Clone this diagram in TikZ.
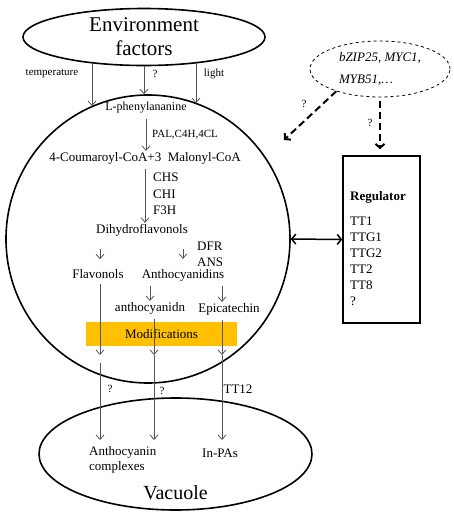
\documentclass[tikz,border=0pt]{standalone}
\usepackage{fontspec}
\setmainfont{Liberation Serif}
\usetikzlibrary{arrows.meta,shapes.geometric}
\definecolor{modorange}{HTML}{FFC000}
\definecolor{flowgray}{HTML}{555555}
\newcommand{\txtsize}[2]{\fontsize{#1}{#2}\selectfont}

\begin{document}
\begin{tikzpicture}[x=1pt,y=-1pt,
		flow/.style={draw=flowgray,line width=.8pt,-{Straight Barb[length=4.5pt,width=8pt]}},
		inflow/.style={flow,shorten <=4pt},
		txt/.style={font=\txtsize{13}{15},inner sep=1pt},
		lbl/.style={font=\txtsize{11}{13},inner sep=1pt},
		border/.style={draw,line width=1.6pt},
		tfarrow/.style={line width=2pt,dash pattern=on 7pt off 4pt,-{Straight Barb[length=4pt,width=9pt]}},
		linkarrow/.style={line width=1.5pt,{Straight Barb[length=4pt,width=10pt]}-{Straight Barb[length=4pt,width=10pt]}}]

		\useasboundingbox (0,0) rectangle (454,515);

		% compartments
		\node[border,ellipse,minimum width=242pt,minimum height=57pt,inner sep=0,align=center,font=\txtsize{21}{24}] (env) at (144,37) {Environment\\factors};
		\node[border,ellipse,minimum width=284pt,minimum height=288pt] (cell) at (148,239) {};
		\node[border,ellipse,minimum width=273pt,minimum height=112pt] (vac) at (175.5,454) {};
		\node[draw,dashed,ellipse,line width=.8pt,minimum width=140pt,minimum height=56pt,inner sep=0,align=left,font=\itshape\txtsize{13}{22}] (tf) at (380,69) {bZIP25, MYC1,\\MYB51,\dots};
		\node[border,minimum width=77pt,minimum height=167pt] (reg) at (381.5,239.5) {};
		\node[fill=modorange,minimum width=151pt,minimum height=24pt,inner sep=0,font=\txtsize{13}{15}] (mod) at (161.5,334) {Modifications};

		% regulator list
		\node[font=\bfseries\txtsize{13}{15}] (regtitle) at (378,197) {Regulator};
		\node[txt,anchor=west,align=left,font=\txtsize{13}{16}] (reglist) at (349,261) {TT1\\TTG1\\TTG2\\TT2\\TT8\\?};

		% environment inputs
		\node[lbl] (temp) at (52,74) {temperature};
		\node[lbl] (envq) at (155,74) {?};
		\node[lbl] (light) at (214,74) {light};

		% pathway
		\node[txt,font=\txtsize{12}{14}] (phe) at (146,108) {L-phenylananine};
		\node[lbl,anchor=west] (pal) at (151,135) {PAL,C4H,4CL};
		\node[txt] (cou) at (145,158) {4-Coumaroyl-CoA+3\ \ Malonyl-CoA};
		\node[txt,anchor=west,align=left,font=\txtsize{13}{16.5}] (chs) at (152,194) {CHS\\CHI\\F3H};
		\node[txt] (dih) at (142,230) {Dihydroflavonols};
		\node[txt,anchor=west,align=left,font=\txtsize{13}{15.5}] (dfr) at (196,254.5) {DFR\\ANS};
		\node[txt] (flav) at (98,274) {Flavonols};
		\node[txt] (antd) at (183,275) {Anthocyanidins};
		\node[txt] (antn) at (150,308) {anthocyanidn};
		\node[txt] (epi) at (229,309) {Epicatechin};

		% transport
		\node[lbl] (q4) at (110,389) {?};
		\node[lbl] (q5) at (162,391) {?};
		\node[txt] (tt12) at (238,389) {TT12};
		\node[txt,anchor=west,align=left] (cplx) at (88,460) {Anthocyanin\\complexes};
		\node[txt] (inpa) at (220,453) {In-PAs};
		\node[font=\txtsize{20}{24}] (vacl) at (175.5,493) {Vacuole};

		% regulation
		\node[lbl] (q2) at (304,104) {?};
		\node[lbl] (q3) at (370,123) {?};

		\coordinate (c1) at (100,0);
		\coordinate (c2) at (154,0);
		\coordinate (c3) at (222,0);
		\coordinate (r1) at (0,355);
		\coordinate (r2) at (0,363);
		\coordinate (r3) at (0,440);
		\coordinate (tfend) at (284,140);

		\draw[flow] (env.207) -- (env.207 |- cell.113);
		\draw[flow] (env.south) -- (env.south |- cell.north);
		\draw[flow] (env.333) -- (env.333 |- cell.70);

		\draw[inflow] (phe.south) -- (phe.south |- cou.north);
		\draw[inflow] (cou.south) -- (cou.south |- dih.north);
		\draw[inflow,shorten <=12pt,shorten >=9pt] (dih.south -| c1) -- (flav.north -| c1);
		\draw[inflow,shorten <=12pt,shorten >=9pt] (dih.south -| antd.north) -- (antd.north);
		\draw[inflow] (antd.south -| antn.north) -- (antn.north);
		\draw[inflow] (antd.south -| c3) -- (epi.north -| c3);

		\draw[inflow] (flav.south -| c1) -- (r1 -| c1);
		\draw[flow] (r2 -| c1) -- (r3 -| c1);
		\draw[inflow] (antn.south -| c2) -- (r1 -| c2);
		\draw[flow] (r1 -| c2) -- (r3 -| c2);
		\draw[inflow] (epi.south -| c3) -- (r1 -| c3);
		\draw[flow] (r1 -| c3) -- (r3 -| c3);

		\draw[tfarrow] (tf.207) -- (tfend);
		\draw[tfarrow,shorten <=4pt,shorten >=6pt] (tf.south) -- (tf.south |- reg.north);
		\draw[linkarrow] (cell.east) -- (reg.west);
	\end{tikzpicture}
\end{document}
